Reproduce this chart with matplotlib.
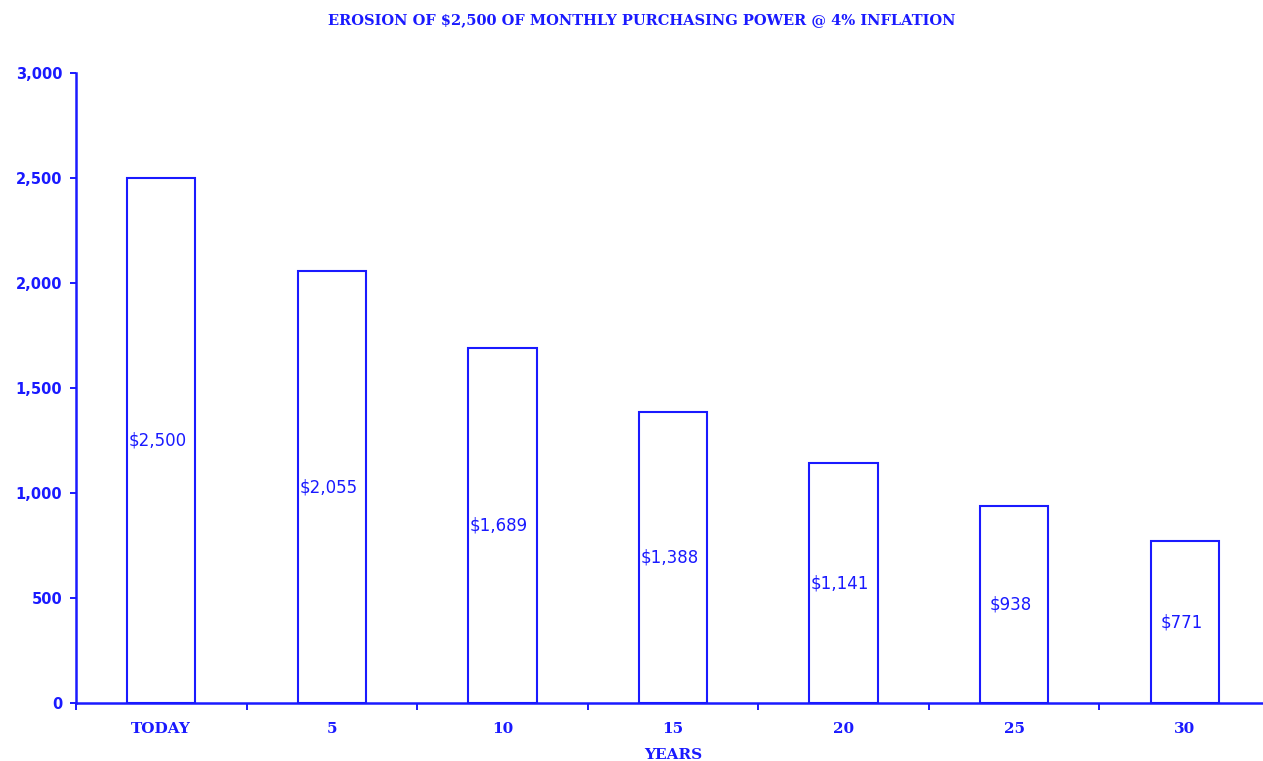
import matplotlib
matplotlib.use("Agg")
import matplotlib.pyplot as plt
import numpy as np

# datos
categorias = ["TODAY", "5", "10", "15", "20", "25", "30"]
valores = [2500, 2055, 1689, 1388, 1141, 938, 771]
etiquetas = ["$2,500", "$2,055", "$1,689", "$1,388", "$1,141", "$938", "$771"]
titulo = "EROSION OF $2,500 OF MONTHLY PURCHASING POWER @ 4% INFLATION"

AZUL = "#1a1aff"

fig = plt.figure(figsize=(12.63, 7.61), dpi=100)
# the axis runs slightly past the right edge, like the original
ax = fig.add_axes([76 / 1263, 58 / 761, 1194 / 1263, 630 / 761])

x = np.arange(len(categorias))
ax.bar(x, valores, width=0.4, facecolor="white", edgecolor=AZUL, linewidth=1.5, zorder=3)

for xi, v, lab in zip(x, valores, etiquetas):
    ax.text(xi - 0.02, v / 2, lab, ha="center", va="center", color=AZUL,
            fontsize=12, family="DejaVu Sans", zorder=4)

ax.set_xlim(-0.5, len(categorias) - 0.5)
ax.set_ylim(0, 3000)
ax.set_yticks(np.arange(0, 3001, 500))
ax.set_yticklabels([f"{v:,}" for v in range(0, 3001, 500)], fontweight="bold")

ax.set_xticks(x)
ax.set_xticklabels(categorias, family="DejaVu Serif", fontweight="bold")
ax.set_xticks(np.arange(-0.5, len(categorias)), minor=True)
ax.tick_params(axis="x", which="major", length=0, pad=14, labelsize=11, labelcolor=AZUL)
ax.tick_params(axis="x", which="minor", length=5, width=1.4, color=AZUL, direction="out")
ax.tick_params(axis="y", length=4.5, width=1.4, color=AZUL, labelcolor=AZUL, labelsize=10.5, pad=5.5)

for side in ("top", "right"):
    ax.spines[side].set_visible(False)
for side in ("left", "bottom"):
    ax.spines[side].set_color(AZUL)
    ax.spines[side].set_linewidth(1.8)

ax.set_xlabel("YEARS", color=AZUL, fontsize=11, family="DejaVu Serif",
              fontweight="bold", labelpad=8)
fig.text(642 / 1263, 1 - 20 / 761, titulo, ha="center", va="center", color=AZUL,
         fontsize=10.5, family="DejaVu Serif", fontweight="bold")

fig.savefig("out.png", dpi=100)
